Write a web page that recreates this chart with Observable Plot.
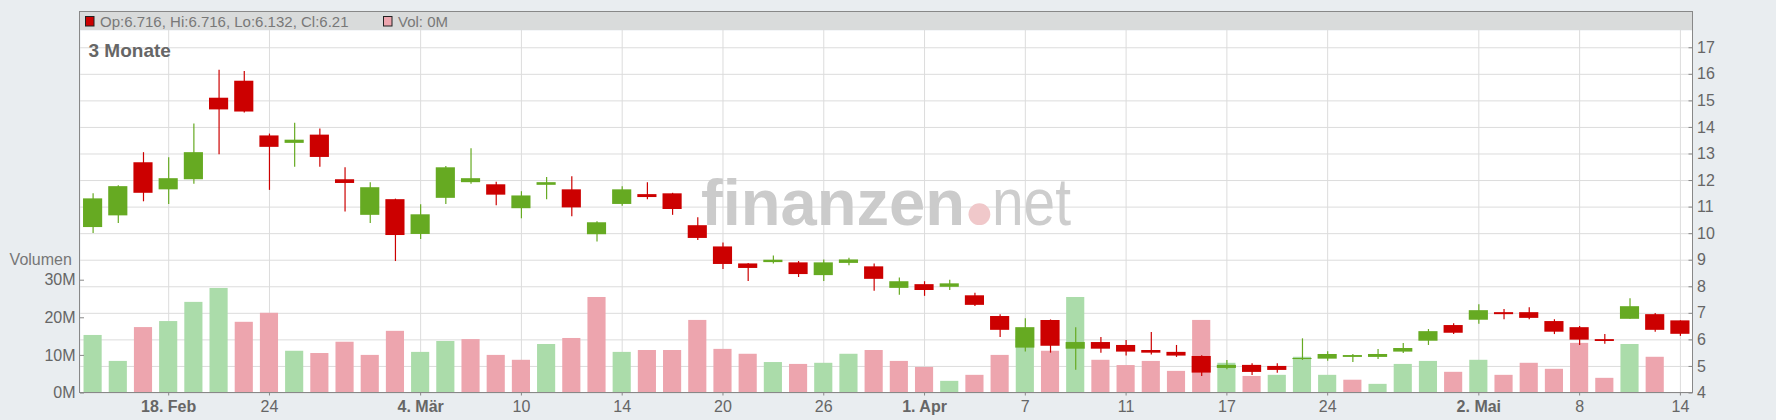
<!DOCTYPE html>
<html>
<head>
<meta charset="utf-8">
<script src="https://cdn.jsdelivr.net/npm/d3@7"></script>
<script src="https://cdn.jsdelivr.net/npm/@observablehq/plot@0.6"></script>
<style>
  html, body { margin: 0; padding: 0; background: #e9edf0; }
  #wrap { position: relative; width: 1776px; height: 420px; overflow: hidden; background: #e9edf0;
          font-family: "Liberation Sans", Arial, sans-serif; }
  #wrap > svg { position: absolute; left: 0; top: 0; }
</style>
</head>
<body>
<div id="wrap"></div>
<script>
// ---------- data ----------
const dates = [
  "2025-02-12","2025-02-13","2025-02-14","2025-02-18","2025-02-19","2025-02-20","2025-02-21",
  "2025-02-24","2025-02-25","2025-02-26","2025-02-27","2025-02-28",
  "2025-03-03","2025-03-04","2025-03-05","2025-03-06","2025-03-07","2025-03-10","2025-03-11",
  "2025-03-12","2025-03-13","2025-03-14","2025-03-17","2025-03-18","2025-03-19","2025-03-20",
  "2025-03-21","2025-03-24","2025-03-25","2025-03-26","2025-03-27","2025-03-28","2025-03-31",
  "2025-04-01","2025-04-02","2025-04-03","2025-04-04","2025-04-07","2025-04-08","2025-04-09",
  "2025-04-10","2025-04-11","2025-04-14","2025-04-15","2025-04-16","2025-04-17","2025-04-21",
  "2025-04-22","2025-04-23","2025-04-24","2025-04-25","2025-04-28","2025-04-29","2025-04-30",
  "2025-05-01","2025-05-02","2025-05-05","2025-05-06","2025-05-07","2025-05-08","2025-05-09",
  "2025-05-12","2025-05-13","2025-05-14"
];
const open = [
  10.23,10.67,12.67,11.65,12.03,15.10,15.74,13.68,13.40,13.71,12.03,10.69,
  11.28,9.97,11.33,11.92,11.84,10.94,11.82,11.65,9.96,11.10,11.47,11.50,10.30,9.50,
  8.86,8.91,8.90,8.42,8.88,8.75,7.94,8.08,7.98,7.66,6.88,5.69,6.73,5.65,
  5.90,5.79,5.60,5.53,5.375,4.925,5.04,5.00,5.26,5.275,5.34,5.34,5.54,5.95,
  6.54,6.74,7.025,7.025,6.69,6.46,6.01,6.775,6.95,6.716
];
const high = [
  11.50,11.80,13.05,12.86,14.13,16.15,16.11,13.75,14.16,13.94,12.48,11.92,
  11.30,11.09,12.53,13.20,11.94,11.58,12.11,12.14,10.45,11.77,11.92,11.52,10.60,9.65,
  8.88,9.16,8.95,9.01,9.07,8.86,8.33,8.19,8.25,7.76,6.95,6.80,6.75,6.46,
  6.09,5.98,6.28,5.79,5.40,5.225,5.10,5.10,6.04,5.55,5.45,5.64,5.86,6.39,
  6.61,7.325,7.14,7.21,6.76,6.50,6.20,7.55,6.99,6.716
];
const low = [
  10.01,10.38,11.20,11.10,11.86,12.97,14.54,11.63,12.50,12.50,10.82,10.38,
  8.95,9.78,11.10,11.86,11.05,10.56,11.28,10.64,9.69,11.03,11.28,10.69,9.74,8.65,
  8.20,8.86,8.35,8.20,8.79,7.83,7.68,7.64,7.86,7.26,6.09,5.54,5.50,4.86,
  5.50,5.39,5.43,5.34,4.62,4.875,4.66,4.74,5.225,5.20,5.15,5.26,5.49,5.79,
  6.20,6.59,6.76,6.76,6.20,5.79,5.84,6.775,6.29,6.132
];
const close = [
  11.31,11.77,11.52,12.07,13.05,14.66,14.58,13.25,13.52,12.87,11.89,11.73,
  9.93,10.71,12.48,12.07,11.45,11.42,11.92,10.97,10.41,11.65,11.36,10.91,9.82,8.84,
  8.69,9.00,8.46,8.90,9.01,8.28,8.19,7.86,8.11,7.30,6.36,6.46,5.76,5.90,
  5.65,5.54,5.50,5.39,4.75,5.04,4.775,4.85,5.30,5.45,5.41,5.45,5.675,6.31,
  6.25,7.10,6.95,6.81,6.29,5.99,5.94,7.25,6.36,6.21
];
// volume in millions
const volumeMio = [
  15.3,8.4,17.4,19.0,24.1,27.8,18.8,21.2,11.1,10.5,13.5,10.0,
  16.4,10.8,13.7,14.2,10.0,8.7,12.9,14.5,25.4,10.8,11.3,11.3,19.3,11.6,
  10.3,8.1,7.6,7.9,10.3,11.3,8.4,6.8,3.1,4.7,10.0,15.0,11.1,25.4,
  8.7,7.3,8.4,5.75,19.3,7.9,4.4,4.7,9.5,4.7,3.4,2.3,7.6,8.4,
  5.5,8.7,4.7,7.9,6.3,13.2,3.9,12.9,9.5,0
];
const priceTicks = [4,5,6,7,8,9,10,11,12,13,14,15,16,17];
const volumeTicks = [0,10,20,30];
const tickDates = ["2025-02-18","2025-02-24","2025-03-04","2025-03-10","2025-03-14","2025-03-20",
  "2025-03-26","2025-04-01","2025-04-07","2025-04-11","2025-04-17","2025-04-24","2025-05-02",
  "2025-05-08","2025-05-14"];
const tickLabels = ["18. Feb","24","4. Mär","10","14","20","26","1. Apr","7","11","17","24","2. Mai","8","14"];
const periodLabel = "3 Monate";
const volumeTitle = "Volumen";

// ---------- styling ----------
const RED = "#cc0000", GREEN = "#66aa22", VOL_UP = "#abdcaa", VOL_DOWN = "#eda5ae";
const GRID = "#dcdcdc", AXIS = "#888888", TEXT = "#666666";
const FONT = "'Liberation Sans', Arial, sans-serif";

const rows = dates.map((d, i) => ({
  date: d, open: open[i], high: high[i], low: low[i], close: close[i], vol: volumeMio[i],
  up: close[i] >= open[i],
  volUp: i === 0 ? close[i] >= open[i] : close[i] >= close[i - 1]
}));
const labelOf = new Map(tickDates.map((d, i) => [d, tickLabels[i]]));
const boldTicks = tickDates.filter((d, i) => tickLabels[i].includes("."));
const plainTicks = tickDates.filter((d, i) => !tickLabels[i].includes("."));

const W = 1776, H = 420, ML = 80, MR = 83.5, MT = 30, MB = 27.5;
const innerW = W - ML - MR;
const base = {
  width: W, height: H, marginLeft: ML, marginRight: MR, marginTop: MT, marginBottom: MB,
  style: {background: "transparent", fontFamily: FONT, fontSize: "16px", color: TEXT, overflow: "visible"}
};
const xScale = {type: "band", domain: dates, paddingInner: 0.28, paddingOuter: 0.14, align: 0.5, round: false, axis: null, label: null};
const priceY = {domain: [4, 17.65], axis: null, label: null};

const wrap = document.getElementById("wrap");

// Layer A: white plot area + grid
const gridPlot = Plot.plot({
  ...base, x: xScale, y: priceY,
  marks: [
    Plot.frame({fill: "white", stroke: "none"}),
    Plot.ruleY(priceTicks, {y: d => d, stroke: GRID, strokeWidth: 1}),
    Plot.ruleX(tickDates, {x: d => d, stroke: GRID, strokeWidth: 1})
  ]
});
wrap.appendChild(gridPlot);

// Watermark (decoration)
const ns = "http://www.w3.org/2000/svg";
const wm = document.createElementNS(ns, "svg");
wm.setAttribute("width", W); wm.setAttribute("height", H);
wm.innerHTML = `
  <text x="701" y="225" font-family="${FONT}" font-weight="bold" font-size="64" fill="#cbcbcb"
        textLength="264" lengthAdjust="spacingAndGlyphs">finanzen</text>
  <circle cx="979.4" cy="214.2" r="10.9" fill="#f0c8ca"/>
  <text x="992" y="225" font-family="${FONT}" font-size="66" fill="#cdcdcd"
        textLength="79" lengthAdjust="spacingAndGlyphs">net</text>`;
wrap.appendChild(wm);

// Layer B: volume bars + left axis
const volPlot = Plot.plot({
  ...base, x: xScale, y: {domain: [0, 96.4], axis: null, label: null}, color: {type: "identity"},
  marks: [
    Plot.barY(rows, {x: "date", y: "vol", fill: d => d.volUp ? VOL_UP : VOL_DOWN}),
    Plot.axisY({ticks: volumeTicks, anchor: "left", tickSize: 0, tickPadding: 5, label: null,
                tickFormat: d => d + "M", fill: TEXT}),
    Plot.ruleY(volumeTicks, {y: d => d, stroke: AXIS, insetRight: innerW - 4})
  ]
});
wrap.appendChild(volPlot);

// Layer C: candles + price axis + date axis
const pricePlot = Plot.plot({
  ...base, x: xScale, y: priceY, color: {type: "identity"},
  marks: [
    Plot.ruleX(rows, {x: "date", y1: "low", y2: "high", stroke: d => d.up ? GREEN : RED, strokeWidth: 1.2}),
    Plot.barY(rows, {x: "date", y1: "open", y2: "close", fill: d => d.up ? GREEN : RED,
                     insetLeft: -0.5, insetRight: -0.5}),
    Plot.axisY({ticks: priceTicks, anchor: "right", tickSize: 0, tickPadding: 4, fill: TEXT, label: null}),
    Plot.ruleY(priceTicks, {y: d => d, stroke: AXIS, insetLeft: innerW - 4}),
    Plot.axisX({ticks: boldTicks, tickFormat: d => labelOf.get(d), fontWeight: "bold", label: null,
                tickSize: 3, tickPadding: 5, stroke: AXIS, fill: TEXT}),
    Plot.axisX({ticks: plainTicks, tickFormat: d => labelOf.get(d), label: null,
                tickSize: 3, tickPadding: 5, stroke: AXIS, fill: TEXT}),
    Plot.text([periodLabel], {text: d => d, frameAnchor: "top-left", dx: 8, dy: 13,
                textAnchor: "start", lineAnchor: "top", fontWeight: "bold", fontSize: 19, fill: TEXT})
  ]
});
wrap.appendChild(pricePlot);

// Frame, header legend and volume title (decoration + last values)
const last = rows[rows.length - 1];
const ov = document.createElementNS(ns, "svg");
ov.setAttribute("width", W); ov.setAttribute("height", H);
ov.style.pointerEvents = "none";
ov.innerHTML = `
  <rect x="80" y="12" width="1612" height="18" fill="#d9dbdb"/>
  <rect x="79.5" y="11.5" width="1613" height="381" fill="none" stroke="${AXIS}" stroke-width="1"/>
  <rect x="85.5" y="16.5" width="8.5" height="9.5" fill="${last.up ? GREEN : RED}" stroke="#222" stroke-width="1"/>
  <text x="100" y="26.6" font-family="${FONT}" font-size="15" fill="#787878">Op:${last.open}, Hi:${last.high}, Lo:${last.low}, Cl:${last.close}</text>
  <rect x="383.5" y="16.5" width="8.5" height="9.5" fill="${last.volUp ? VOL_UP : VOL_DOWN}" stroke="#222" stroke-width="1"/>
  <text x="398" y="26.6" font-family="${FONT}" font-size="15" fill="#787878">Vol: ${last.vol}M</text>
  <text x="9.6" y="264.8" font-family="${FONT}" font-size="16" fill="#777">${volumeTitle}</text>`;
wrap.appendChild(ov);
</script>
</body>
</html>
